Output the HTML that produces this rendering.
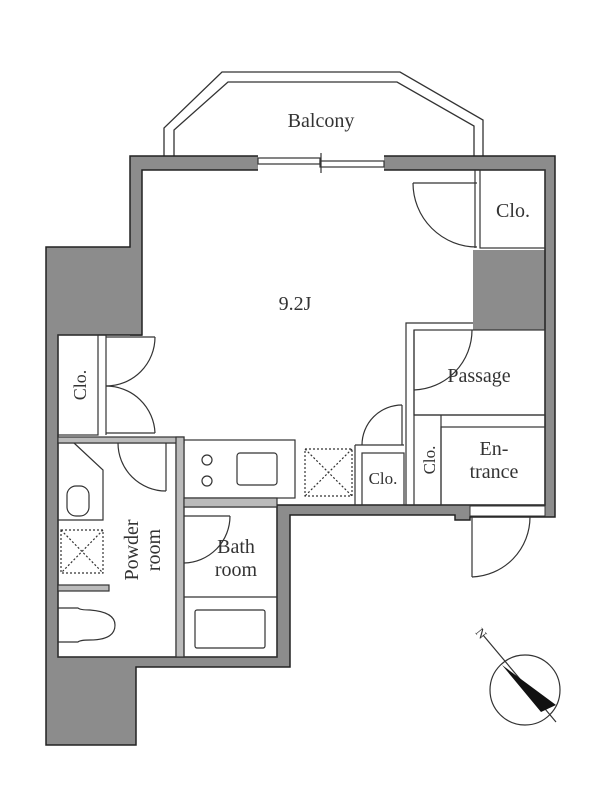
<!DOCTYPE html>
<html><head><meta charset="utf-8"><style>
html,body{margin:0;padding:0;background:#fff}
svg{display:block}
text{font-family:"Liberation Serif",serif;fill:#333}
</style></head><body>
<svg width="600" height="800" viewBox="0 0 600 800" xmlns="http://www.w3.org/2000/svg">
<g fill="none" stroke="#333" stroke-width="1.3">
<polyline points="164,158 164,128 222,72 400,72 483,120 483,158"/>
<polyline points="174,158 174,130 228,82 397,82 474,126 474,158"/>
</g>
<text x="321" y="127" font-size="20" text-anchor="middle">Balcony</text>

<!-- walls -->
<g fill="#8c8c8c" stroke="none">
<rect x="130" y="156" width="128" height="14"/>
<rect x="384" y="156" width="171" height="14"/>
<rect x="130" y="156" width="12" height="180"/>
<rect x="46" y="247" width="96" height="88"/>
<rect x="46" y="247" width="12" height="498"/>
<rect x="46" y="657" width="90" height="88"/>
<rect x="46" y="657" width="244" height="10"/>
<rect x="277" y="505" width="13" height="162"/>
<rect x="277" y="505" width="178" height="10"/>
<rect x="455" y="505" width="15" height="15"/>
<rect x="545" y="156" width="10" height="361"/>
<rect x="473" y="250" width="82" height="80"/>
</g>
<g fill="none" stroke="#222" stroke-width="1.5">
<polyline points="258,156 130,156 130,247 46,247 46,745 136,745 136,667 290,667 290,515 455,515 455,520 470,520 470,517 555,517 555,156 384,156"/>
<polyline points="258,170 142,170 142,335 58,335 58,657 277,657 277,505 455,505 470,505 545,505 545,170 384,170"/>
</g>
<rect x="470" y="506" width="75" height="10" fill="#fff" stroke="#333" stroke-width="1"/>
<!-- window -->
<g stroke="#333" stroke-width="1.2" fill="#fff">
<rect x="258" y="158" width="62" height="6"/>
<rect x="320" y="161" width="64" height="6"/>
<line x1="321" y1="153" x2="321" y2="173"/>
</g>

<g fill="none" stroke="#333" stroke-width="1.2">
<rect x="480" y="170" width="65" height="78"/>
<line x1="475" y1="170" x2="475" y2="248"/>
<line x1="413" y1="183" x2="477" y2="183"/>
<path d="M413,183 A64,64 0 0 0 477,247"/>
<rect x="414" y="330" width="131" height="85"/>
<polyline points="406,398 406,323 473,323"/>
<line x1="414" y1="330" x2="414" y2="505"/>
<path d="M472,330 A60,60 0 0 1 414,390"/>
<rect x="441" y="427" width="104" height="78"/>
<line x1="414" y1="415" x2="545" y2="415"/>
<line x1="441" y1="415" x2="441" y2="505"/>
<line x1="406" y1="398" x2="406" y2="505"/>
<rect x="362" y="453" width="42" height="52"/>
<line x1="355" y1="445" x2="355" y2="505"/>
<line x1="355" y1="445" x2="404" y2="445"/>
<path d="M362,445 A40,40 0 0 1 402,405"/>
<line x1="402" y1="405" x2="402" y2="445"/>
<g stroke-dasharray="2,2">
<rect x="305" y="449" width="47" height="47"/>
<line x1="305" y1="449" x2="352" y2="496"/>
<line x1="352" y1="449" x2="305" y2="496"/>
</g>
<rect x="184" y="440" width="111" height="58"/>
<rect x="237" y="453" width="40" height="32" rx="3"/>
<circle cx="207" cy="460" r="5"/><circle cx="207" cy="481" r="5"/>
<!-- left closet -->
<rect x="58" y="335" width="40" height="100"/>
<line x1="106" y1="335" x2="106" y2="435"/>
<line x1="106" y1="337" x2="155" y2="337"/>
<path d="M155,337 A49,49 0 0 1 106,386"/>
<path d="M106,386 A49,49 0 0 1 155,433"/>
<line x1="106" y1="433" x2="155" y2="433"/>
<!-- powder room -->
<rect x="58" y="443" width="118" height="214"/>
<rect x="58" y="437" width="126" height="6" fill="#bbb"/>
<rect x="176" y="437" width="8" height="220" fill="#bbb"/>
<path d="M118,443 A48,48 0 0 0 166,491"/>
<line x1="166" y1="443" x2="166" y2="491"/>
<polyline points="74,443 103,470 103,520 58,520"/>
<rect x="67" y="486" width="22" height="30" rx="9"/>
<g stroke-dasharray="2,2">
<rect x="61" y="530" width="42" height="43"/>
<line x1="61" y1="530" x2="103" y2="573"/>
<line x1="103" y1="530" x2="61" y2="573"/>
</g>
<rect x="58" y="585" width="51" height="6" fill="#bbb"/>
<path d="M58,608 H78 Q80,610 90,610 Q115,612 115,625 Q115,640 90,640 Q80,640 78,642 H58"/>
<!-- bath -->
<rect x="184" y="507" width="93" height="150"/>
<rect x="184" y="498" width="93" height="9" fill="#bbb"/>
<line x1="184" y1="597" x2="277" y2="597"/>
<rect x="195" y="610" width="70" height="38" rx="2"/>
<path d="M184,563 A47,47 0 0 0 230,516"/>
<line x1="184" y1="516" x2="230" y2="516"/>
<!-- entrance door -->
<line x1="472" y1="517" x2="472" y2="577"/>
<path d="M472,577 A60,60 0 0 0 530,517"/>
<!-- compass -->
<circle cx="525" cy="690" r="35"/>
<line x1="483" y1="635" x2="556" y2="722"/>
</g>
<polygon points="502,665 556,705 541,712" fill="#111"/>
<text x="478" y="634" font-size="13" transform="rotate(50 478 630)">N</text>

<g font-size="20" text-anchor="middle">
<text x="295" y="310">9.2J</text>
<text x="513" y="217">Clo.</text>
<text x="479" y="382">Passage</text>
<text x="494" y="455">En-</text>
<text x="494" y="478">trance</text>
<text x="383" y="484" font-size="17">Clo.</text>
<text x="236" y="553">Bath</text>
<text x="236" y="576">room</text>
<text transform="translate(435,460) rotate(-90)" font-size="17">Clo.</text>
<text transform="translate(86,385) rotate(-90)" font-size="18">Clo.</text>
<text transform="translate(138,550) rotate(-90)">Powder</text>
<text transform="translate(160,550) rotate(-90)">room</text>
</g>
</svg>
</body></html>
